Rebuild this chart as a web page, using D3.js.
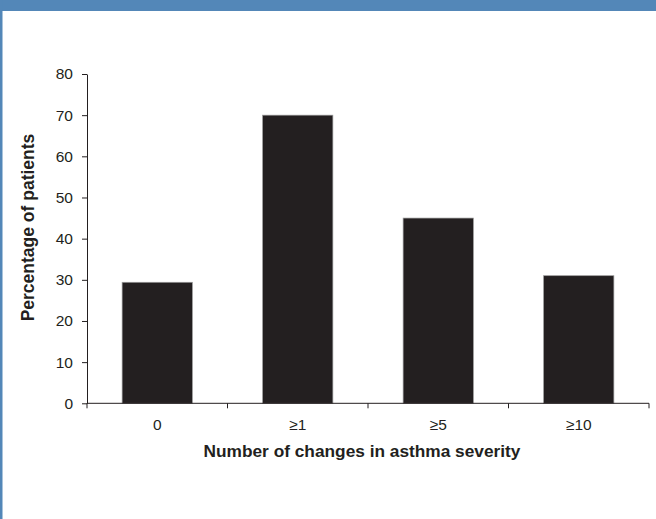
<!DOCTYPE html>
<html>
<head>
<meta charset="utf-8">
<script src="https://cdn.jsdelivr.net/npm/d3@7"></script>
<style>
  body { margin: 0; background: #fff; }
  svg { display: block; font-family: "Liberation Sans", Arial, sans-serif; }
</style>
</head>
<body>
<div id="the_chart"></div>
<script>
// data
var categories = ["0", "\u22651", "\u22655", "\u226510"];
var percentages = [29.4, 70, 45, 31];
var yTicks = [0, 10, 20, 30, 40, 50, 60, 70, 80];

var w = 656;
var h = 519;
var padL = 87, padR = 649, padT = 74, padB = 403.3;
var ink = "#231f20";

var svg = d3.select("#the_chart")
            .append("svg")
            .attr("width", w)
            .attr("height", h);

// blue frame on top and left
svg.append("rect").attr("x", 0).attr("y", 0).attr("width", w).attr("height", 11).attr("fill", "#5387b8");
svg.append("rect").attr("x", 0).attr("y", 0).attr("width", 2.5).attr("height", h).attr("fill", "#5387b8");

var xscale = d3.scaleBand()
               .domain(categories)
               .range([padL, padR])
               .paddingInner(0.5)
               .paddingOuter(0.25);

var yscale = d3.scaleLinear()
               .domain([0, 80])
               .range([padB, padT]);

var yaxis = d3.axisLeft(yscale)
              .tickValues(yTicks)
              .tickSize(5)
              .tickPadding(9)
              .tickSizeOuter(0);

var gY = svg.append("g")
    .attr("transform", "translate(" + padL + ",0)")
    .call(yaxis);
gY.select(".domain").attr("stroke", ink);
gY.selectAll(".tick line").attr("stroke", ink);
gY.selectAll(".tick text")
  .attr("fill", ink)
  .style("font-size", "15.5px")
  .style("font-family", "Liberation Sans, Arial, sans-serif");

// bars
svg.selectAll("rect.bar")
   .data(percentages)
 .enter().append("rect")
   .attr("class", "bar")
   .attr("x", function(d, i) { return xscale(categories[i]); })
   .attr("y", function(d) { return yscale(d); })
   .attr("width", xscale.bandwidth())
   .attr("height", function(d) { return yscale(0) - yscale(d); })
   .attr("fill", ink)
   .attr("stroke", "#9a9a9a")
   .attr("stroke-width", 0.7);

// x axis: line, ticks at the band boundaries, labels at band centres
var gX = svg.append("g").attr("transform", "translate(0," + padB + ")");
gX.append("line")
  .attr("x1", padL).attr("x2", padR)
  .attr("y1", 0).attr("y2", 0)
  .attr("stroke", ink);
var bounds = d3.range(categories.length + 1).map(function(i) { return padL + i * xscale.step(); });
gX.selectAll("line.tk")
  .data(bounds)
 .enter().append("line")
  .attr("class", "tk")
  .attr("x1", function(d) { return d; }).attr("x2", function(d) { return d; })
  .attr("y1", 0).attr("y2", 5)
  .attr("stroke", ink);
gX.selectAll("text")
  .data(categories)
 .enter().append("text")
  .attr("x", function(d) { return xscale(d) + xscale.bandwidth() / 2; })
  .attr("y", 27)
  .attr("text-anchor", "middle")
  .attr("fill", ink)
  .style("font-size", "15.5px")
  .text(function(d) { return d; });

// axis titles
svg.append("text")
   .attr("x", 362)
   .attr("y", 457)
   .attr("text-anchor", "middle")
   .attr("fill", ink)
   .style("font-size", "17.3px")
   .style("font-weight", "bold")
   .text("Number of changes in asthma severity");

svg.append("text")
   .attr("transform", "translate(34,227.5) rotate(-90)")
   .attr("text-anchor", "middle")
   .attr("fill", ink)
   .style("font-size", "17.5px")
   .style("font-weight", "bold")
   .text("Percentage of patients");
</script>
</body>
</html>
